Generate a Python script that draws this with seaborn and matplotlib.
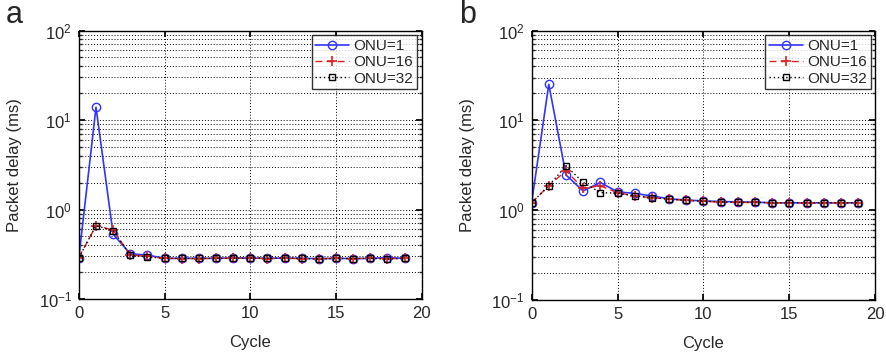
import numpy as np
import pandas as pd
import matplotlib
matplotlib.use("Agg")
import matplotlib.pyplot as plt
import seaborn as sns

cycles = list(range(20))

# panel a
a_onu1 = [0.29, 13.9, 0.53, 0.32, 0.31, 0.285, 0.285, 0.285, 0.285, 0.287, 0.287, 0.285, 0.287,
          0.285, 0.283, 0.285, 0.283, 0.285, 0.29, 0.285]
a_onu16 = [0.29, 0.66, 0.59, 0.31, 0.30, 0.285, 0.283, 0.283, 0.285, 0.285, 0.287, 0.283, 0.285,
           0.283, 0.283, 0.285, 0.283, 0.285, 0.283, 0.285]
a_onu32 = [0.29, 0.66, 0.58, 0.31, 0.295, 0.285, 0.285, 0.285, 0.285, 0.285, 0.287, 0.285, 0.287,
           0.285, 0.279, 0.285, 0.283, 0.285, 0.279, 0.285]

# panel b
b_onu1 = [1.21, 25.2, 2.47, 1.64, 2.04, 1.60, 1.54, 1.44, 1.34, 1.30, 1.27, 1.25, 1.24,
          1.23, 1.21, 1.21, 1.21, 1.21, 1.21, 1.21]
b_onu16 = [1.21, 1.87, 2.76, 1.75, 1.87, 1.57, 1.44, 1.38, 1.33, 1.29, 1.26, 1.23, 1.22,
           1.22, 1.21, 1.21, 1.20, 1.21, 1.21, 1.21]
b_onu32 = [1.21, 1.87, 3.13, 2.04, 1.57, 1.55, 1.44, 1.38, 1.33, 1.29, 1.26, 1.24, 1.22,
           1.23, 1.21, 1.21, 1.21, 1.21, 1.21, 1.21]

series_names = ["ONU=1", "ONU=16", "ONU=32"]
styles = {
    "ONU=1": dict(color="#3333ff", linestyle="-", marker="o", markersize=6,
                  markerfacecolor="none", markeredgecolor="#3333ff", markeredgewidth=1.0, linewidth=1.2),
    "ONU=16": dict(color="#dd2222", linestyle=(0, (5, 3)), marker="+", markersize=7,
                   markeredgecolor="#dd2222", markeredgewidth=1.2, linewidth=1.0),
    "ONU=32": dict(color="black", linestyle=(0, (1, 2)), marker="s", markersize=4.5,
                   markerfacecolor="none", markeredgecolor="black", markeredgewidth=1.0, linewidth=1.0),
}

sns.set_theme(style="white")
plt.rcParams['font.family'] = ['Liberation Sans', 'DejaVu Sans']
plt.rcParams['mathtext.fontset'] = 'custom'
plt.rcParams['mathtext.rm'] = 'Liberation Sans'

fig = plt.figure(figsize=(8.86, 3.59), dpi=100)
ax_a = fig.add_axes([0.089, 0.167, 0.387, 0.748])
ax_b = fig.add_axes([0.600, 0.164, 0.388, 0.751])

panels = [(ax_a, "a", [a_onu1, a_onu16, a_onu32]),
          (ax_b, "b", [b_onu1, b_onu16, b_onu32])]

for ax, letter, data in panels:
    for name, vals in zip(series_names, data):
        df = pd.DataFrame({"Cycle": cycles, "delay": vals})
        sns.lineplot(data=df, x="Cycle", y="delay", ax=ax, label=name, **styles[name])
    ax.set_yscale("log")
    ax.set_ylim(0.1, 100)
    ax.set_xlim(0, 20)
    ax.set_xticks([0, 5, 10, 15, 20])
    ax.grid(True, which="major", axis="both", color="black", linestyle=(0, (1, 2)), linewidth=0.7)
    ax.grid(True, which="minor", axis="y", color="black", linestyle=(0, (1, 2)), linewidth=0.7)
    ax.tick_params(axis="both", which="major", labelsize=12, direction="in", length=4, pad=5,
                   color="black", left=True, bottom=True, top=True, right=True)
    ax.tick_params(axis="y", which="minor", direction="in", length=2, left=True, right=True)
    for s in ax.spines.values():
        s.set_color("black")
        s.set_linewidth(1.0)
    ax.set_xlabel("Cycle", fontsize=12, labelpad=10)
    ax.set_ylabel("Packet delay (ms)", fontsize=12, labelpad=12)
    leg = ax.legend(loc="upper right", fontsize=11, frameon=True, fancybox=False,
                    handlelength=2.2, handletextpad=0.3, borderpad=0.25, labelspacing=0.15,
                    borderaxespad=0.3, edgecolor="black")
    leg.get_frame().set_linewidth(1.0)
    fig.text(ax.get_position().x0 - 0.082, 1.0, letter, fontsize=22, va="top", ha="left")

fig.savefig("out.png", dpi=100)
